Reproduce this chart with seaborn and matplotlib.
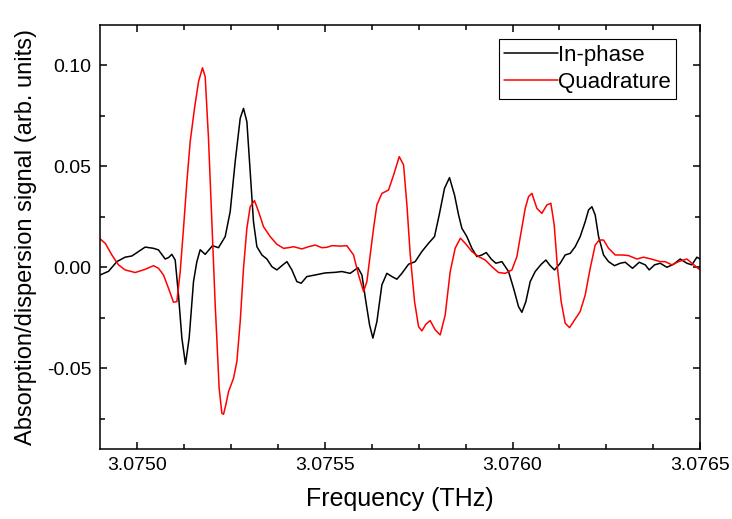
import numpy as np
import pandas as pd
import matplotlib
matplotlib.use("Agg")
import matplotlib.pyplot as plt
from matplotlib.ticker import MultipleLocator, FormatStrFormatter
import seaborn as sns

# offsets from 3.0750 THz in units of 1e-4 THz, signal in units of 0.01
inphase_u = [-0.995, -0.773, -0.55, -0.33, -0.15, 0.027, 0.205, 0.427, 0.56, 0.739,
             0.827, 0.916, 1.005, 1.093, 1.183, 1.28, 1.378, 1.494, 1.583, 1.672,
             1.805, 2.0, 2.16, 2.339, 2.472, 2.605, 2.739, 2.827, 2.917, 3.005,
             3.093, 3.184, 3.317, 3.45, 3.584, 3.717, 3.85, 3.984, 4.117, 4.25,
             4.365, 4.517, 4.739, 5.005, 5.272, 5.45, 5.672, 5.877, 5.984, 6.09,
             6.188, 6.277, 6.384, 6.517, 6.65, 6.784, 6.917, 7.05, 7.228, 7.405,
             7.583, 7.761, 7.92, 8.045, 8.187, 8.32, 8.454, 8.561, 8.65, 8.783,
             8.917, 9.05, 9.183, 9.3, 9.432, 9.556, 9.717, 9.895, 10.028, 10.161,
             10.25, 10.356, 10.472, 10.605, 10.766, 10.89, 11.005, 11.12, 11.272, 11.405,
             11.539, 11.672, 11.805, 11.939, 12.028, 12.117, 12.205, 12.295, 12.428, 12.561,
             12.72, 12.872, 13.005, 13.2, 13.38, 13.539, 13.645, 13.788, 13.939, 14.117,
             14.295, 14.472, 14.65, 14.783, 14.917, 15.0]
inphase_v = [-0.38, -0.2, 0.28, 0.5, 0.56, 0.78, 1.0, 0.94, 0.86, 0.41,
             0.48, 0.64, 0.36, -1.37, -3.5, -4.8, -3.5, -0.7, 0.28, 0.87,
             0.64, 1.07, 0.97, 1.52, 2.76, 5.23, 7.38, 7.87, 7.21, 4.74,
             2.26, 1.02, 0.61, 0.41, 0.03, -0.13, 0.08, 0.28, -0.13, -0.71,
             -0.79, -0.46, -0.38, -0.28, -0.25, -0.21, -0.3, -0.02, -0.38, -1.70,
             -2.85, -3.51, -2.69, -0.87, -0.3, -0.46, -0.59, -0.3, 0.15, 0.28,
             0.78, 1.19, 1.52, 2.59, 3.91, 4.44, 3.58, 2.6, 1.93, 1.52,
             0.94, 0.53, 0.61, 0.73, 0.41, 0.2, 0.28, -0.21, -1.04, -1.95,
             -2.23, -1.70, -0.71, -0.21, 0.15, 0.36, 0.08, -0.13, 0.2, 0.61,
             0.69, 1.02, 1.52, 2.26, 2.84, 3.0, 2.59, 1.52, 0.61, 0.28,
             0.08, 0.2, 0.25, -0.05, 0.25, 0.12, -0.13, 0.12, 0.2, 0.0,
             0.15, 0.41, 0.2, 0.12, 0.5, 0.41]

quad_u = [-0.995, -0.861, -0.683, -0.507, -0.33, -0.061, 0.205, 0.427, 0.56, 0.693,
          0.827, 0.96, 1.05, 1.139, 1.227, 1.317, 1.405, 1.52, 1.627, 1.733,
          1.805, 1.893, 1.983, 2.072, 2.115, 2.177, 2.25, 2.294, 2.357, 2.428,
          2.56, 2.65, 2.739, 2.827, 2.917, 3.005, 3.12, 3.228, 3.36, 3.539,
          3.717, 3.895, 4.028, 4.161, 4.383, 4.561, 4.739, 4.917, 5.05, 5.183,
          5.405, 5.583, 5.761, 5.895, 6.028, 6.117, 6.205, 6.295, 6.384, 6.517,
          6.695, 6.829, 6.98, 7.095, 7.184, 7.273, 7.388, 7.495, 7.584, 7.69,
          7.805, 7.939, 8.072, 8.205, 8.339, 8.472, 8.61, 8.739, 8.917, 9.094,
          9.272, 9.45, 9.628, 9.806, 9.984, 10.117, 10.232, 10.339, 10.428, 10.517,
          10.65, 10.783, 10.917, 11.023, 11.112, 11.2, 11.298, 11.405, 11.521, 11.655,
          11.805, 11.939, 12.072, 12.205, 12.312, 12.428, 12.561, 12.739, 12.917, 13.094,
          13.317, 13.495, 13.717, 13.939, 14.072, 14.25, 14.428, 14.65, 14.783, 15.0]
quad_v = [1.40, 1.19, 0.61, 0.12, -0.13, -0.26, -0.1, 0.08, -0.05, -0.38,
          -1.04, -1.73, -1.70, -0.21, 1.93, 4.24, 6.22, 7.87, 9.19, 9.88,
          9.44, 6.39, 2.26, -1.86, -3.5, -5.99, -7.23, -7.28, -6.8, -6.16,
          -5.5, -4.67, -2.69, -0.05, 1.93, 3.0, 3.30, 2.76, 2.01, 1.52,
          1.14, 0.94, 0.97, 1.02, 0.91, 1.02, 1.1, 0.97, 0.99, 1.07,
          1.05, 1.07, 0.61, -0.38, -1.2, -0.71, 0.61, 1.93, 3.09, 3.66,
          3.83, 4.57, 5.48, 5.07, 3.09, 0.61, -1.70, -2.94, -3.15, -2.82,
          -2.64, -3.10, -3.35, -2.36, -0.21, 0.95, 1.44, 1.19, 0.78, 0.53,
          0.36, 0.03, -0.26, -0.3, -0.13, 0.53, 1.77, 2.92, 3.5, 3.66,
          2.92, 2.67, 3.09, 3.17, 2.1, -0.05, -1.70, -2.77, -2.99, -2.61,
          -2.19, -1.37, -0.05, 1.1, 1.35, 1.35, 0.94, 0.61, 0.61, 0.58,
          0.41, 0.5, 0.4, 0.28, 0.28, 0.12, 0.28, 0.41, 0.2, -0.13]

df_in = pd.DataFrame({"freq": 3.0750 + np.array(inphase_u) * 1e-4,
                      "signal": np.array(inphase_v) * 0.01})
df_q = pd.DataFrame({"freq": 3.0750 + np.array(quad_u) * 1e-4,
                     "signal": np.array(quad_v) * 0.01})

sns.set_style("ticks")
plt.rcParams["font.family"] = ["Liberation Sans", "DejaVu Sans"]
plt.rcParams["text.color"] = "black"
plt.rcParams["axes.labelcolor"] = "black"
plt.rcParams["xtick.color"] = "black"
plt.rcParams["ytick.color"] = "black"
plt.rcParams["lines.solid_joinstyle"] = "round"

fig = plt.figure(figsize=(7.32, 5.19), dpi=100)
ax = fig.add_axes([0.1366, 0.1349, 0.8197, 0.8169])

sns.lineplot(data=df_in, x="freq", y="signal", ax=ax, color="black",
             linewidth=1.1, label="In-phase", estimator=None, sort=False)
sns.lineplot(data=df_q, x="freq", y="signal", ax=ax, color="red",
             linewidth=1.1, label="Quadrature", estimator=None, sort=False)

ax.set_xlim(3.07490, 3.0765)
ax.set_ylim(-0.09, 0.12)
ax.xaxis.set_major_locator(MultipleLocator(0.0005))
ax.xaxis.set_minor_locator(MultipleLocator(0.000125))
ax.yaxis.set_major_locator(MultipleLocator(0.05))
ax.yaxis.set_minor_locator(MultipleLocator(0.025))
ax.xaxis.set_major_formatter(FormatStrFormatter("%.4f"))
ax.yaxis.set_major_formatter(FormatStrFormatter("%.2f"))

ax.tick_params(which="both", direction="in", top=True, right=True,
               bottom=True, left=True, labelsize=14, colors="black", width=1.1)
ax.tick_params(which="major", length=5, pad=6)
ax.tick_params(which="minor", length=3.5)
for s in ax.spines.values():
    s.set_color("black")
    s.set_linewidth(1.1)

ax.set_xlabel("Frequency (THz)", fontsize=18, labelpad=9)
ax.set_ylabel("Absorption/dispersion signal (arb. units)", fontsize=17, labelpad=7)

leg = ax.legend(loc="upper right", bbox_to_anchor=(0.96, 0.967), fontsize=16,
                frameon=True, fancybox=False, shadow=False, handlelength=2.4,
                handletextpad=0.0, borderpad=0.25, labelspacing=0.3,
                borderaxespad=0.0)
leg.get_frame().set_edgecolor("black")
leg.get_frame().set_linewidth(0.8)
leg.get_frame().set_alpha(1.0)

fig.savefig("out.png", dpi=100)
